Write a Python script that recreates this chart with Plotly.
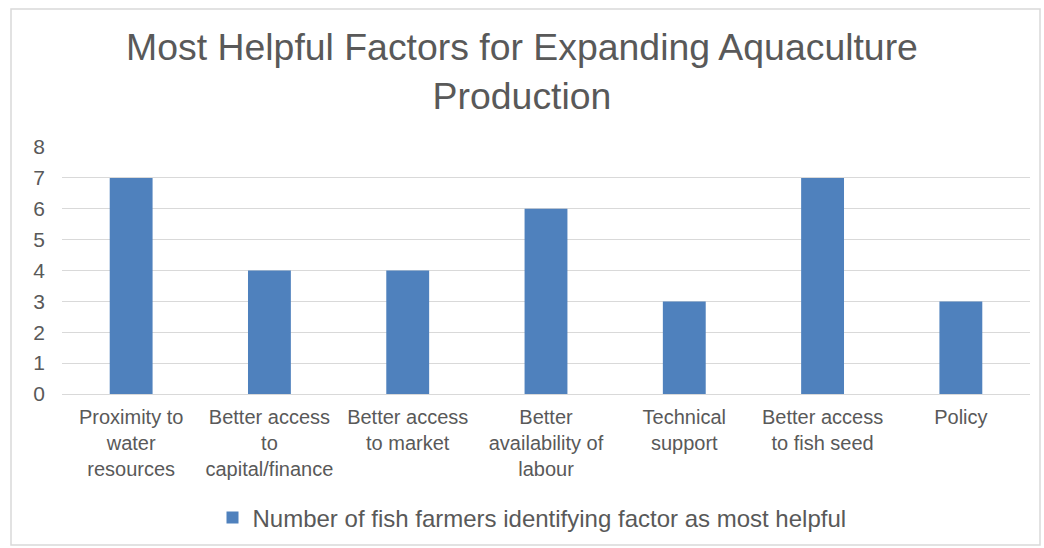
import plotly.graph_objects as go

categories = ["Proximity to<br>water<br>resources", "Better access<br>to<br>capital/finance",
              "Better access<br>to market", "Better<br>availability of<br>labour",
              "Technical<br>support", "Better access<br>to fish seed", "Policy"]
values = [7, 4, 4, 6, 3, 7, 3]
series_name = "Number of fish farmers identifying factor as most helpful"
title_text = "Most Helpful Factors for Expanding Aquaculture<br>Production"

TXT = "#595959"
FONT = "Liberation Sans, Arial, sans-serif"

fig = go.Figure()
fig.add_trace(go.Bar(x=categories, y=values, name=series_name,
                     marker=dict(color="#4F81BD", line=dict(width=0)),
                     width=0.31, showlegend=True))

fig.update_layout(
    width=1044, height=548,
    margin=dict(l=62, r=14, t=147, b=154, autoexpand=False),
    paper_bgcolor="white", plot_bgcolor="white",
    font=dict(family=FONT, color=TXT, size=20),
    title=dict(text=title_text, x=0.5, xanchor="center", y=1 - 60 / 548, yanchor="middle",
               yref="container", font=dict(size=37.4, color=TXT, family=FONT)),
    showlegend=True,
    legend=dict(orientation="h", x=0.5 - 14 / 968, xanchor="center",
                yref="container", y=1 - 518 / 548, yanchor="middle",
                font=dict(size=24, color=TXT), itemwidth=30),
    bargap=0.69,
)
fig.update_xaxes(showgrid=False, showline=False, ticks="", tickfont=dict(size=20, color=TXT),
                 tickangle=0, ticklabelstandoff=9)
fig.update_yaxes(range=[0, 8], dtick=1, showgrid=True, gridcolor="#D9D9D9", gridwidth=1.3,
                 zeroline=True, zerolinecolor="#D9D9D9", zerolinewidth=1.3, showline=False,
                 ticks="", tickfont=dict(size=21, color=TXT), ticklabelstandoff=16)
fig.add_shape(type="rect", xref="paper", yref="paper",
              x0=(11 - 62) / 968, x1=(1040 - 62) / 968,
              y0=(394 - 545) / 247, y1=(394 - 9) / 247,
              line=dict(color="#D9D9D9", width=1.5), fillcolor="rgba(0,0,0,0)", layer="below")
fig.write_html("out.html")
